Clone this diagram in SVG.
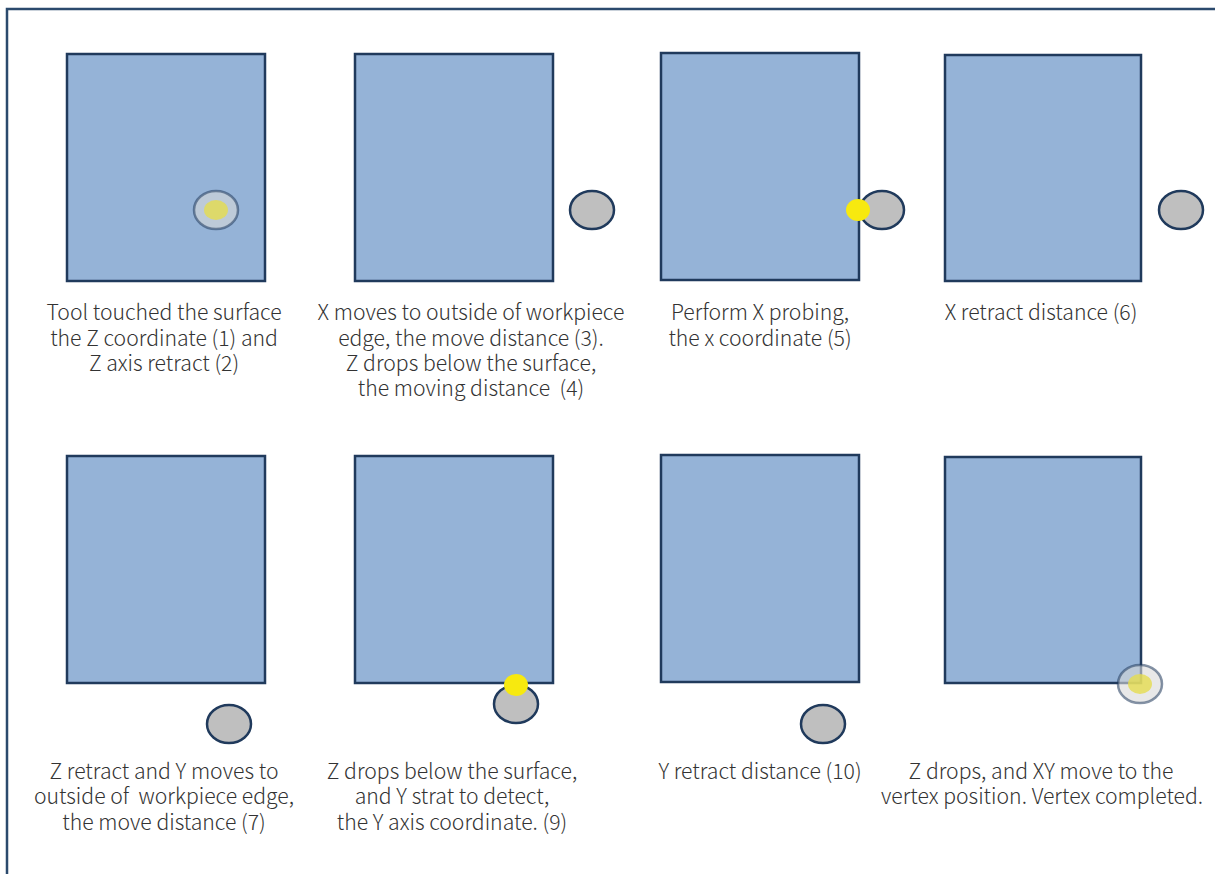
<svg xmlns="http://www.w3.org/2000/svg" width="1215" height="874" viewBox="0 0 1215 874">
<style>
.frame{fill:none;stroke:#2b4a6d;stroke-width:2.5}
.wp{fill:#95b3d7;stroke:#203a5c;stroke-width:2.5}
.tool{fill:#bfbfbf;stroke:#203a5c;stroke-width:2.5}
.toolt{fill:#d9d9d9;fill-opacity:0.6;stroke:#203a5c;stroke-opacity:0.55;stroke-width:2.5}
.hit{fill:#f7e90f}
.hitt{fill:#e5dc4f;fill-opacity:0.8}
text{font-family:"Noto Sans CJK SC","Noto Sans",sans-serif;font-weight:300;font-size:21.2px;fill:#333;text-anchor:middle;white-space:pre}
</style>
<rect class="frame" x="7" y="9" width="1240" height="900"/>
<g id="step1">
<rect class="wp" x="67" y="54" width="198" height="227"/>
<ellipse class="toolt" cx="216" cy="210" rx="22" ry="19"/>
<ellipse class="hitt" cx="216" cy="210" rx="12" ry="10"/>
<text x="164" y="320">Tool touched the surface</text>
<text x="164" y="346">the Z coordinate (1) and</text>
<text x="164" y="371">Z axis retract (2)</text>
</g>
<g id="step2">
<rect class="wp" x="355" y="54" width="198" height="227"/>
<ellipse class="tool" cx="592" cy="210" rx="22" ry="19"/>
<text x="471" y="320">X moves to outside of workpiece</text>
<text x="471" y="346">edge, the move distance (3).</text>
<text x="471" y="371">Z drops below the surface,</text>
<text x="471" y="396" xml:space="preserve">the moving distance  (4)</text>
</g>
<g id="step3">
<rect class="wp" x="661" y="53" width="198" height="227"/>
<ellipse class="tool" cx="882" cy="210" rx="22" ry="19"/>
<ellipse class="hit" cx="858" cy="210" rx="12" ry="11"/>
<text x="760" y="320">Perform X probing,</text>
<text x="760" y="346">the x coordinate (5)</text>
</g>
<g id="step4">
<rect class="wp" x="945" y="55" width="196" height="226"/>
<ellipse class="tool" cx="1181" cy="210" rx="22" ry="19"/>
<text x="1041" y="320">X retract distance (6)</text>
</g>
<g id="step5">
<rect class="wp" x="67" y="456" width="198" height="227"/>
<ellipse class="tool" cx="229" cy="724" rx="22" ry="19"/>
<text x="164" y="779">Z retract and Y moves to</text>
<text x="164" y="804" xml:space="preserve">outside of  workpiece edge,</text>
<text x="164" y="830">the move distance (7)</text>
</g>
<g id="step6">
<rect class="wp" x="355" y="456" width="198" height="227"/>
<ellipse class="tool" cx="516" cy="704" rx="22" ry="19"/>
<ellipse class="hit" cx="516" cy="685" rx="12" ry="11"/>
<text x="452" y="779">Z drops below the surface,</text>
<text x="452" y="804">and Y strat to detect,</text>
<text x="452" y="830">the Y axis coordinate. (9)</text>
</g>
<g id="step7">
<rect class="wp" x="661" y="455" width="198" height="227"/>
<ellipse class="tool" cx="823" cy="724" rx="22" ry="19"/>
<text x="760" y="779">Y retract distance (10)</text>
</g>
<g id="step8">
<rect class="wp" x="945" y="457" width="196" height="226"/>
<ellipse class="toolt" cx="1140" cy="684" rx="22" ry="19"/>
<ellipse class="hitt" cx="1140" cy="684" rx="12" ry="10"/>
<text x="1041" y="779">Z drops, and XY move to the</text>
<text x="1042" y="804">vertex position. Vertex completed.</text>
</g>
<g id="connectors"/>
</svg>
